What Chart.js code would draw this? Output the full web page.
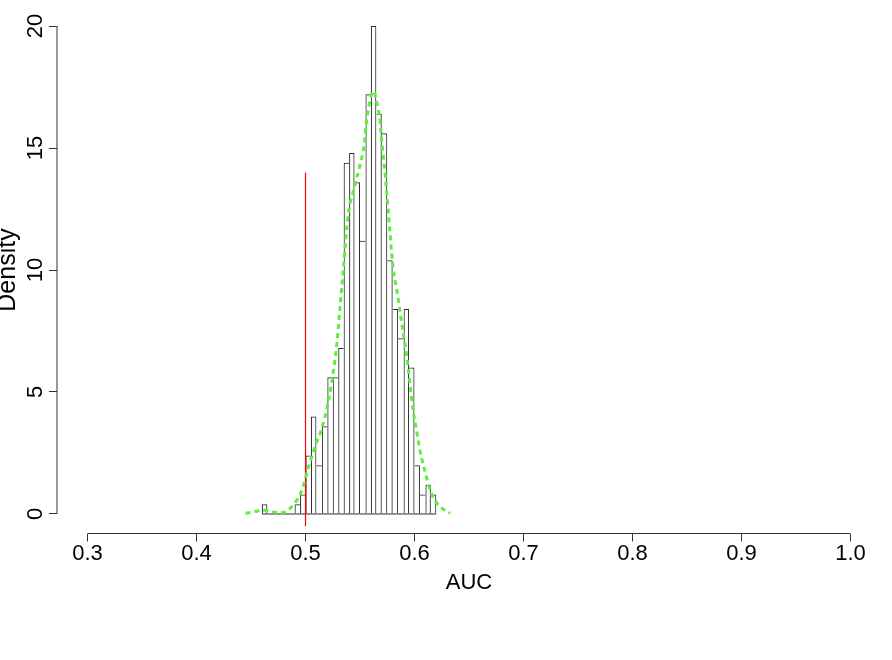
<!DOCTYPE html>
<html>
<head>
<meta charset="utf-8">
<title>AUC histogram</title>
<script src="https://cdn.jsdelivr.net/npm/chart.js@4/dist/chart.umd.min.js"></script>
<style>
  html, body { margin: 0; padding: 0; background: #fff; }
  canvas { display: block; }
</style>
</head>
<body>
<canvas id="aucChart" width="892" height="660"></canvas>
<script>
'use strict';

// Histogram bins (left edge of each bin), bin width 0.005
const binWidth = 0.005;
const binStarts = [
  0.460, 0.465, 0.470, 0.475, 0.480, 0.485, 0.490, 0.495,
  0.500, 0.505, 0.510, 0.515, 0.520, 0.525, 0.530, 0.535,
  0.540, 0.545, 0.550, 0.555, 0.560, 0.565, 0.570, 0.575,
  0.580, 0.585, 0.590, 0.595, 0.600, 0.605, 0.610, 0.615
];
const binDensity = [
  0.4, 0, 0, 0, 0, 0, 0.4, 0.8,
  2.4, 4.0, 2.0, 3.6, 5.6, 5.6, 6.8, 14.4,
  14.8, 13.6, 11.2, 17.2, 20.0, 16.4, 15.6, 10.4,
  8.4, 7.2, 8.4, 6.0, 2.0, 0.8, 1.2, 0.8
];

// Kernel density estimate (green dotted curve)
const densX = [
  0.445, 0.4537, 0.461, 0.469, 0.4766, 0.484, 0.490, 0.4965, 0.5026, 0.5087,
  0.5149, 0.520, 0.524, 0.5286, 0.5317, 0.5347, 0.5372, 0.5393, 0.5454, 0.550,
  0.5537, 0.5555, 0.5592, 0.5622, 0.5653, 0.5683, 0.570, 0.572, 0.5745, 0.5769,
  0.579, 0.5815, 0.5837, 0.5867, 0.5897, 0.5928, 0.5959, 0.5989, 0.602, 0.605,
  0.6096, 0.6142, 0.6188, 0.6234, 0.6326
];
const densY = [
  0.03, 0.1, 0.16, 0.1, 0.04, 0.16, 0.44, 0.95, 1.9, 2.76,
  3.5, 4.4, 5.4, 6.9, 8.5, 10.0, 11.4, 12.3, 13.5, 14.3,
  15.1, 15.9, 16.95, 17.33, 16.9, 16.15, 15.25, 14.4, 13.2, 11.9,
  10.7, 9.7, 9.2, 8.3, 7.4, 6.5, 5.3, 4.2, 3.4, 2.6,
  1.75, 1.0, 0.55, 0.3, 0.03
];

// Reference line at AUC = 0.5
const refX = 0.5;
const refLow = -0.5;
const refHigh = 14;

// Axis ticks and limits (R style: 4% extension around the data range)
const xTicks = [0.3, 0.4, 0.5, 0.6, 0.7, 0.8, 0.9, 1.0];
const yTicks = [0, 5, 10, 15, 20];
const xLimits = [0.272, 1.028];
const yLimits = [-0.8, 20.8];

const fontFamily = '"Liberation Sans", Arial, Helvetica, sans-serif';

// Build the datasets from the arrays above
const histPoints = binStarts.map((start, i) => ({ x: start + binWidth / 2, y: binDensity[i] }));
const densPoints = densX.map((x, i) => ({ x: x, y: densY[i] }));
const basePoints = [
  { x: binStarts[0], y: 0 },
  { x: binStarts[binStarts.length - 1] + binWidth, y: 0 }
];

// Shared edges between bars are drawn once, by the taller bar
function barBorder(ctx) {
  const i = ctx.dataIndex;
  const v = binDensity[i];
  const prev = i > 0 ? binDensity[i - 1] : 0;
  const next = i < binDensity.length - 1 ? binDensity[i + 1] : 0;
  return {
    top: 1,
    bottom: 0,
    left: v >= prev ? 1 : 0,
    right: v > next ? 1 : 0
  };
}

// R draws its axis lines only from the first to the last tick
const axisLines = {
  id: 'axisLines',
  afterDraw(chart) {
    const { ctx, chartArea, scales } = chart;
    const xs = scales.x;
    const ys = scales.y;
    ctx.save();
    ctx.strokeStyle = '#333';
    ctx.lineWidth = 1;
    ctx.beginPath();
    ctx.moveTo(xs.getPixelForValue(xTicks[0]), chartArea.bottom);
    ctx.lineTo(xs.getPixelForValue(xTicks[xTicks.length - 1]), chartArea.bottom);
    ctx.moveTo(chartArea.left, ys.getPixelForValue(yTicks[0]));
    ctx.lineTo(chartArea.left, ys.getPixelForValue(yTicks[yTicks.length - 1]));
    ctx.stroke();
    ctx.restore();
  }
};

const ctx = document.getElementById('aucChart').getContext('2d');
new Chart(ctx, {
  type: 'bar',
  data: {
    datasets: [
      {
        type: 'line',
        data: densPoints,
        borderColor: '#5fee3f',
        borderWidth: 3,
        borderDash: [5, 4],
        pointRadius: 0,
        cubicInterpolationMode: 'monotone',
        fill: false
      },
      {
        type: 'line',
        data: [{ x: refX, y: refLow }, { x: refX, y: refHigh }],
        borderColor: '#ff0000',
        borderWidth: 1.2,
        pointRadius: 0,
        fill: false
      },
      {
        type: 'bar',
        data: histPoints,
        backgroundColor: 'rgba(255,255,255,0)',
        borderColor: '#2b2b2b',
        borderWidth: barBorder,
        borderSkipped: false,
        inflateAmount: 0,
        barPercentage: 1,
        categoryPercentage: 1
      },
      {
        type: 'line',
        data: basePoints,
        borderColor: '#2b2b2b',
        borderWidth: 1,
        pointRadius: 0,
        fill: false
      }
    ]
  },
  options: {
    responsive: false,
    devicePixelRatio: 1,
    animation: false,
    events: [],
    layout: { padding: { top: 6.5, right: 11, left: 0, bottom: 0 } },
    plugins: {
      legend: { display: false },
      tooltip: { enabled: false }
    },
    scales: {
      x: {
        type: 'linear',
        position: 'bottom',
        offset: false,
        min: xLimits[0],
        max: xLimits[1],
        afterBuildTicks: scale => { scale.ticks = xTicks.map(v => ({ value: v })); },
        afterFit: scale => {
          scale.height = 126.5;
          scale.paddingLeft = 0;
          scale.paddingRight = 0;
        },
        ticks: {
          autoSkip: false,
          maxRotation: 0,
          padding: 1,
          color: '#000',
          font: { family: fontFamily, size: 22, lineHeight: 1 },
          callback: v => Number(v).toFixed(1)
        },
        grid: { offset: false, drawOnChartArea: false, drawTicks: true, tickLength: 8, color: '#333' },
        border: { display: false },
        title: {
          display: true,
          text: 'AUC',
          color: '#000',
          font: { family: fontFamily, size: 22, lineHeight: 1 },
          padding: { top: 0, bottom: 66.5 }
        }
      },
      y: {
        type: 'linear',
        offset: false,
        min: yLimits[0],
        max: yLimits[1],
        afterBuildTicks: scale => { scale.ticks = yTicks.map(v => ({ value: v })); },
        afterFit: scale => {
          scale.width = 57;
          scale.paddingTop = 0;
          scale.paddingBottom = 0;
        },
        ticks: {
          minRotation: 90,
          maxRotation: 90,
          crossAlign: 'center',
          padding: 1,
          color: '#000',
          font: { family: fontFamily, size: 22, lineHeight: 1 }
        },
        grid: { drawOnChartArea: false, drawTicks: true, tickLength: 8, color: '#333' },
        border: { display: false },
        title: {
          display: true,
          text: 'Density',
          color: '#000',
          font: { family: fontFamily, size: 25, lineHeight: 1 },
          padding: { top: -4.5, bottom: 0 }
        }
      }
    }
  },
  plugins: [axisLines]
});
</script>
</body>
</html>
